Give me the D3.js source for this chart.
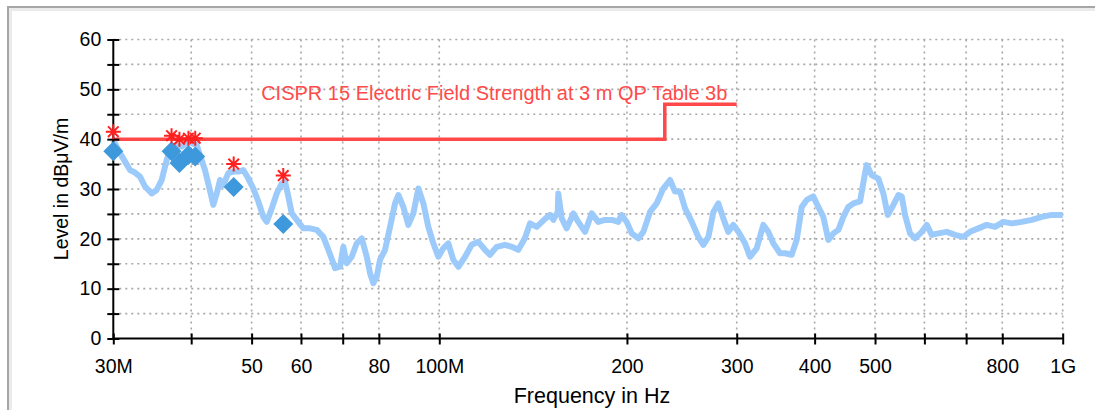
<!DOCTYPE html>
<html>
<head>
<meta charset="utf-8">
<script src="https://cdn.jsdelivr.net/npm/d3@7"></script>
<style>
  body { margin: 0; background: #fff; }
  svg { display: block; font-family: "Liberation Sans", Arial, Helvetica, sans-serif; }
  .grid line { stroke: #a8a8a8; stroke-width: 1.6; stroke-dasharray: 2,4; }
  .axis path, .axis line { stroke: #000; stroke-width: 2; }
  .axis text { font-size: 19.5px; fill: #000; }
</style>
</head>
<body>
<svg id="chart" width="1095" height="410"></svg>
<script>
var traceFreq = [30.0, 30.75, 31.33, 31.91, 32.5, 33.11, 33.72, 34.57, 35.21, 35.87, 36.54, 36.99, 37.68, 38.63, 39.58, 40.82,
  41.58, 42.09, 42.72, 43.4, 43.96, 44.5, 45.04, 45.88, 46.73, 47.6, 48.49, 49.4, 50.32, 51.26, 52.21, 52.87, 53.86, 54.86,
  55.88, 56.57, 57.26, 57.99, 59.07, 60.53, 62.04, 63.6, 65.17, 66.38, 67.62, 68.04, 69.32, 70.16, 71.05, 72.37, 73.72, 75.1,
  76.5, 77.44, 78.39, 79.37, 80.35, 81.84, 83.38, 84.93, 85.97, 87.57, 89.2, 90.86, 92.57, 94.29, 96.04, 97.83, 99.65, 101.5,
  103.4, 105.3, 107.3, 110.0, 112.7, 115.5, 118.4, 120.6, 123.6, 127.5, 130.7, 133.9, 137.2, 139.8, 143.3, 147.8, 150.5, 152.4,
  154.9, 155.2, 157.2, 160.1, 164.1, 167.1, 171.3, 175.6, 179.9, 184.4, 189.1, 193.7, 196.1, 199.8, 203.6, 208.6, 212.5, 217.8,
  223.2, 228.7, 234.5, 238.8, 243.3, 247.9, 254.1, 260.3, 265.2, 270.2, 275.2, 280.3, 285.5, 290.8, 296.3, 301.8, 309.3, 315.1,
  323.0, 331.0, 337.1, 343.4, 352.0, 358.6, 367.5, 374.4, 381.4, 388.5, 398.1, 405.5, 413.1, 420.8, 428.7, 436.7, 444.8, 453.0,
  461.5, 473.1, 481.9, 484.9, 493.9, 506.1, 515.6, 524.0, 535.0, 545.0, 551.9, 558.6, 569.0, 579.6, 594.2, 605.3, 616.5, 631.7,
  651.7, 671.9, 692.8, 710.3, 732.4, 755.3, 778.9, 803.1, 828.4, 859.7, 892.0, 925.5, 960.3, 1000];
var traceLevel = [39.8, 37.2, 35.5, 33.8, 33.3, 32.5, 30.5, 29.1, 29.8, 31.8, 35.8, 37.9, 38.8, 38.5, 39.5, 38.8,
  35.8, 33.8, 30.5, 26.8, 29.1, 31.8, 30.8, 33.2, 33.5, 33.5, 33.8, 32.1, 30.1, 27.5, 24.4, 23.4, 26.1, 29.1,
  31.1, 31.5, 28.5, 25.1, 23.8, 22.1, 22.1, 21.8, 20.4, 17.8, 15.1, 14.1, 14.4, 18.4, 15.1, 16.4, 19.1, 20.1,
  16.4, 13.1, 11.1, 12.4, 15.8, 17.8, 22.4, 27.1, 28.8, 26.4, 22.8, 25.1, 30.1, 27.1, 22.4, 19.1, 16.4, 18.1,
  19.1, 15.8, 14.4, 16.4, 18.8, 19.4, 17.8, 16.8, 18.4, 18.8, 18.4, 17.8, 20.1, 23.1, 22.4, 24.0, 24.8, 23.8,
  25.4, 29.1, 24.1, 22.1, 25.1, 23.4, 21.4, 25.1, 23.4, 23.8, 23.8, 23.4, 24.8, 23.4, 21.1, 20.1, 21.4, 25.4,
  27.1, 30.1, 31.8, 29.5, 29.5, 26.1, 23.4, 20.4, 18.8, 20.4, 25.4, 27.1, 24.1, 21.4, 22.8, 21.4, 19.1, 16.4,
  18.1, 22.8, 21.4, 19.1, 17.1, 17.1, 16.8, 19.8, 26.4, 27.8, 28.5, 26.4, 24.4, 19.8, 21.1, 21.8, 24.4, 26.4,
  27.1, 27.5, 33.2, 34.8, 32.8, 32.1, 29.1, 24.8, 26.8, 28.8, 28.5, 24.8, 21.1, 20.1, 21.4, 22.8, 20.8, 21.1,
  21.4, 20.8, 20.4, 21.4, 22.1, 22.8, 22.4, 23.4, 23.1, 23.4, 23.8, 24.4, 24.8, 24.8];

// peak (asterisk) and quasi-peak (diamond) results
var peakFreq = [30.0, 37.2, 38.3, 39.6, 40.6, 46.8, 56.2];
var peakLevel = [41.5, 40.7, 40.0, 40.2, 40.2, 35.0, 32.7];
var qpFreq = [30.0, 37.2, 38.3, 39.6, 40.6, 46.8, 56.2];
var qpLevel = [37.6, 37.6, 35.2, 36.8, 36.5, 30.4, 23.0];

// CISPR 15 limit
var limitFreq = [30, 230, 230, 300];
var limitLevel = [40, 40, 47, 47];
var limitLabel = "CISPR 15 Electric Field Strength at 3 m QP Table 3b";

var xTicks = [30, 40, 50, 60, 70, 80, 100, 200, 300, 400, 500, 600, 700, 800, 1000];
var xTickLabels = ["30M", "", "50", "60", "", "80", "100M", "200", "300", "400", "500", "", "", "800", "1G"];
var yTicks = [0, 5, 10, 15, 20, 25, 30, 35, 40, 45, 50, 55, 60];

var margin = {top: 39.5, right: 32.3, bottom: 71.5, left: 113.3};
var width = 1095 - margin.left - margin.right,
    height = 410 - margin.top - margin.bottom;

var svg = d3.select("#chart");

// panel frame (top/left edges visible)
svg.append("path").attr("d", "M8,410V7H1095").attr("fill", "none").attr("stroke", "#ebebeb").attr("stroke-width", 5)
  .attr("transform", "translate(1.5,1.5)");
svg.append("path").attr("d", "M8,410V7H1095").attr("fill", "none").attr("stroke", "#a6a6a6").attr("stroke-width", 2);

var g = svg.append("g").attr("transform", "translate(" + margin.left + "," + margin.top + ")");

var x = d3.scaleLog().domain([30, 1000]).range([0, width]);
var y = d3.scaleLinear().domain([0, 60]).range([height, 0]);

// grid
var grid = g.append("g").attr("class", "grid");
grid.selectAll(".h").data(yTicks.filter(function(d) { return d > 0; }))
  .enter().append("line")
  .attr("x1", 0).attr("x2", width)
  .attr("y1", function(d) { return y(d); }).attr("y2", function(d) { return y(d); });
grid.selectAll(".v").data(xTicks.filter(function(d) { return d > 30; }))
  .enter().append("line")
  .attr("y1", 0).attr("y2", height)
  .attr("x1", function(d) { return x(d); }).attr("x2", function(d) { return x(d); });

// trace
var traceData = traceFreq.map(function(f, i) { return [f, traceLevel[i]]; });
var line = d3.line().x(function(d) { return x(d[0]); }).y(function(d) { return y(d[1]); });
g.append("path").datum(traceData)
  .attr("fill", "none").attr("stroke", "#9ccbfb").attr("stroke-width", 6)
  .attr("stroke-linejoin", "round").attr("d", line);

// limit line
var limitData = limitFreq.map(function(f, i) { return [f, limitLevel[i]]; });
g.append("path").datum(limitData)
  .attr("fill", "none").attr("stroke", "#ff4848").attr("stroke-width", 3.5).attr("d", line);
g.append("text")
  .attr("x", x(40.0) + 70).attr("y", y(47.9))
  .attr("fill", "#ff4a4a").attr("font-size", 20)
  .text(limitLabel);

// axes
var yAxis = d3.axisLeft(y).tickValues(yTicks).tickSize(6)
  .tickFormat(function(d) { return d % 10 === 0 ? d : ""; });
var ya = g.append("g").attr("class", "axis").call(yAxis);
ya.select(".domain").attr("d", "M0," + height + "V0");
ya.selectAll(".tick line").attr("x1", -6).attr("x2", 6);
ya.selectAll(".tick text").attr("x", -12);

var xAxis = d3.axisBottom(x).tickValues(xTicks).tickSize(6)
  .tickFormat(function(d, i) { return xTickLabels[i]; });
var xa = g.append("g").attr("class", "axis").attr("transform", "translate(0," + height + ")").call(xAxis);
xa.select(".domain").attr("d", "M0,0H" + width);
xa.selectAll(".tick line").attr("y1", -5).attr("y2", 6);
xa.selectAll(".tick text").attr("y", 34).attr("dy", 0);

// markers
var qp = g.selectAll(".qp").data(qpFreq).enter().append("path")
  .attr("d", d3.symbol().type(d3.symbolSquare).size(200))
  .attr("transform", function(d, i) { return "translate(" + x(d) + "," + y(qpLevel[i]) + ") rotate(45)"; })
  .attr("fill", "#3d98dc");

var star = "M-7.5,0H7.5M0,-7.5V7.5M-5.3,-5.3L5.3,5.3M-5.3,5.3L5.3,-5.3";
g.selectAll(".pk").data(peakFreq).enter().append("path")
  .attr("d", star)
  .attr("transform", function(d, i) { return "translate(" + x(d) + "," + y(peakLevel[i]) + ")"; })
  .attr("fill", "none").attr("stroke", "#ff1f1f").attr("stroke-width", 2);

// axis titles
svg.append("text")
  .attr("transform", "translate(68," + (margin.top + height / 2) + ") rotate(-90)")
  .attr("text-anchor", "middle").attr("font-size", 19.5)
  .text("Level in dBμV/m");
svg.append("text")
  .attr("x", 592).attr("y", 403)
  .attr("text-anchor", "middle").attr("font-size", 21.5)
  .text("Frequency in Hz");
</script>
</body>
</html>
